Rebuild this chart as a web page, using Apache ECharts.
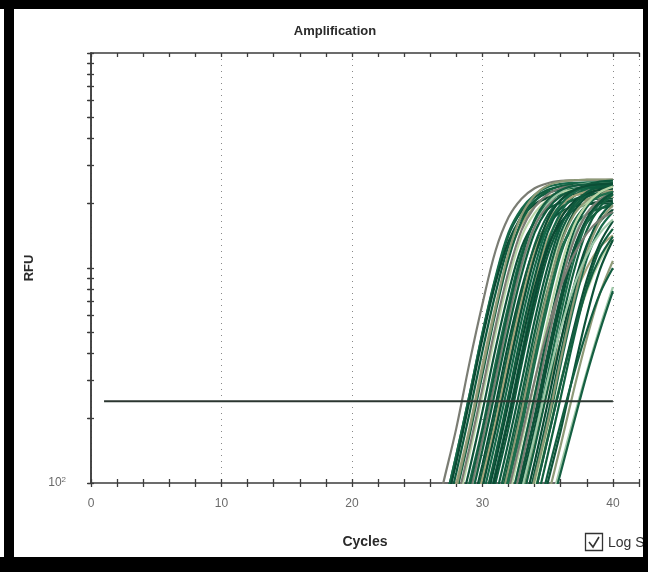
<!DOCTYPE html>
<html>
<head>
<meta charset="utf-8">
<script src="https://cdn.jsdelivr.net/npm/echarts@6/dist/echarts.min.js"></script>
<style>
  html, body { margin: 0; padding: 0; background: #fff; }
  #chart { width: 648px; height: 572px; }
</style>
</head>
<body>
<div id="chart"></div>
<script>
// ---- axis values ----
const cycleTicks = [0, 2, 4, 6, 8, 10, 12, 14, 16, 18, 20, 22, 24, 26, 28, 30, 32, 34, 36, 38, 40, 42];
const cycleLabels = [0, 10, 20, 30, 40];
const rfuTicks = [100, 200, 300, 400, 500, 600, 700, 800, 900, 1000,
                  2000, 3000, 4000, 5000, 6000, 7000, 8000, 9000, 10000];
const rfuLabels = [100];

// ---- threshold ----
const thresholdRFU = 240;
const thresholdCycles = [1, 40];

// ---- amplification curves: first cycle of each trace, then RFU per cycle up to 40 ----
const curveStart = [
  26, 27, 27, 27, 27, 27, 28, 28, 28, 28, 28,
  29, 29, 29, 29, 29, 30, 30, 30, 30, 30,
  31, 31, 31, 31, 31, 31, 32, 32, 32, 32, 32, 32,
  33, 33, 33, 33, 33, 34, 34, 34, 34, 34, 35, 35,
  28, 29, 29, 30, 30, 31, 31, 32, 32, 33, 33, 29, 30, 32, 33, 31
];
const curveRFU = [
  [55, 100, 180, 360, 680, 1200, 1720, 2100, 2350, 2480, 2540, 2560, 2570, 2570, 2575],
  [74, 135, 255, 495, 890, 1420, 1840, 2130, 2310, 2400, 2430, 2445, 2450, 2450],
  [55, 100, 180, 355, 665, 1140, 1600, 1930, 2140, 2240, 2280, 2295, 2300, 2300],
  [74, 135, 255, 500, 905, 1460, 1890, 2190, 2380, 2460, 2490, 2500, 2505, 2505],
  [70, 125, 240, 470, 850, 1330, 1720, 1980, 2120, 2180, 2200, 2205, 2210, 2210],
  [62, 112, 210, 410, 760, 1270, 1750, 2060, 2240, 2310, 2340, 2350, 2350, 2350],
  [55, 100, 180, 360, 675, 1170, 1650, 2000, 2220, 2330, 2380, 2395, 2400],
  [74, 135, 255, 495, 885, 1400, 1800, 2080, 2240, 2310, 2340, 2350, 2350],
  [65, 115, 215, 420, 770, 1250, 1630, 1880, 2010, 2070, 2090, 2100, 2100],
  [90, 165, 320, 620, 1100, 1650, 2040, 2280, 2400, 2440, 2450, 2455, 2455],
  [95, 175, 340, 650, 1180, 1760, 2180, 2420, 2520, 2560, 2575, 2580, 2580],
  [55, 100, 180, 355, 665, 1130, 1570, 1890, 2080, 2180, 2230, 2250],
  [68, 122, 230, 450, 800, 1250, 1600, 1820, 1930, 1980, 2000, 2000],
  [82, 150, 290, 560, 1000, 1560, 1980, 2260, 2410, 2470, 2490, 2500],
  [62, 112, 210, 410, 760, 1280, 1760, 2070, 2250, 2340, 2380, 2400],
  [88, 160, 305, 590, 1040, 1560, 1940, 2160, 2260, 2290, 2300, 2300],
  [55, 100, 180, 355, 665, 1140, 1600, 1930, 2140, 2240, 2290],
  [74, 135, 255, 490, 870, 1360, 1740, 1980, 2090, 2130, 2150],
  [62, 112, 205, 400, 760, 1300, 1810, 2150, 2340, 2420, 2450],
  [70, 125, 235, 450, 810, 1260, 1630, 1860, 1980, 2030, 2050],
  [74, 135, 255, 500, 905, 1470, 1930, 2250, 2440, 2520, 2550],
  [55, 100, 180, 358, 670, 1160, 1630, 1970, 2190, 2300],
  [74, 135, 255, 490, 875, 1380, 1780, 2030, 2140, 2190],
  [62, 112, 205, 400, 760, 1300, 1810, 2150, 2340, 2420],
  [68, 122, 228, 440, 790, 1220, 1560, 1780, 1890, 1940],
  [64, 115, 215, 420, 780, 1290, 1760, 2060, 2220, 2290],
  [74, 135, 255, 500, 905, 1460, 1900, 2200, 2390, 2470],
  [55, 100, 180, 360, 675, 1170, 1650, 2000, 2220],
  [74, 135, 255, 495, 880, 1390, 1800, 2070, 2200],
  [62, 112, 205, 400, 740, 1220, 1620, 1870, 2010],
  [68, 122, 230, 450, 830, 1340, 1790, 2080, 2250],
  [74, 135, 255, 500, 910, 1480, 1920, 2230, 2420],
  [50, 85, 150, 270, 460, 720, 1000, 1250, 1420],
  [55, 100, 180, 355, 660, 1100, 1520, 1820],
  [70, 125, 235, 455, 820, 1280, 1640, 1870],
  [62, 112, 205, 400, 750, 1250, 1720, 2020],
  [90, 165, 315, 610, 1080, 1640, 2020, 2260],
  [50, 95, 170, 300, 500, 780, 1080, 1350],
  [55, 100, 175, 330, 600, 980, 1350],
  [74, 135, 250, 470, 820, 1230, 1520],
  [48, 85, 150, 270, 470, 760, 1080],
  [60, 110, 190, 320, 510, 760, 1000],
  [88, 160, 290, 520, 880, 1300, 1650],
  [70, 120, 200, 330, 530, 815],
  [66, 112, 190, 320, 510, 780],
  [80, 145, 275, 535, 960, 1500, 1920, 2200, 2350, 2410, 2430, 2440, 2440],
  [78, 142, 270, 520, 930, 1460, 1880, 2160, 2300, 2370, 2390, 2400],
  [58, 105, 190, 375, 700, 1180, 1640, 1960, 2160, 2260, 2300, 2310],
  [85, 155, 295, 570, 1010, 1560, 1980, 2250, 2390, 2440, 2460],
  [60, 108, 198, 385, 720, 1220, 1700, 2030, 2220, 2310, 2340],
  [85, 155, 295, 570, 1010, 1560, 1980, 2250, 2390, 2440],
  [58, 105, 190, 375, 700, 1180, 1640, 1960, 2160, 2260],
  [85, 155, 295, 570, 1010, 1560, 1980, 2250, 2390],
  [60, 108, 198, 385, 720, 1220, 1700, 2030, 2220],
  [80, 145, 275, 535, 960, 1500, 1920, 2200],
  [58, 105, 190, 375, 700, 1180, 1640, 1960],
  [95, 175, 335, 640, 1120, 1680, 2070, 2300, 2410, 2450, 2470, 2480],
  [95, 175, 335, 640, 1120, 1680, 2070, 2300, 2410, 2450, 2470],
  [52, 92, 165, 300, 520, 820, 1150, 1450, 1680],
  [48, 88, 160, 290, 500, 800, 1120, 1400],
  [52, 92, 165, 300, 520, 820, 1150, 1450, 1680, 1820]
];

// ---- styling ----
const FONT = '"Liberation Sans", Arial, sans-serif';
const frameColor = '#3c3c3c';
const tickStyle = { color: frameColor, width: 1.3 };
const traceColors = [
  '#7b7d74', '#0f5b3d', '#a5a47c', '#17694a', '#0b4a33', '#0e5a3e',
  '#1e6e4c', '#b9d5a8', '#0d5238', '#12603f', '#8f9a78', '#135e41',
  '#0c4f36', '#9fc9a9', '#155f42'
];

const chart = echarts.init(document.getElementById('chart'), null, { renderer: 'canvas' });

const curveSeries = curveRFU.map((vals, i) => ({
  type: 'line',
  data: vals.map((v, k) => [curveStart[i] + k, v]),
  showSymbol: false,
  smooth: 0.35,
  silent: true,
  z: 2,
  lineStyle: { width: 2.2, color: traceColors[i % traceColors.length] }
}));

const thresholdSeries = {
  type: 'line',
  data: thresholdCycles.map(c => [c, thresholdRFU]),
  showSymbol: false,
  silent: true,
  z: 5,
  lineStyle: { width: 2.2, color: '#2b3630' }
};

const xBase = {
  type: 'value', min: 0, max: 42, interval: 10,
  axisLine: { show: false, onZero: false },
  axisTick: { show: false },
  axisLabel: { show: false },
  splitLine: { show: false }
};
const yBase = {
  type: 'log', logBase: 10, min: 100, max: 10000,
  axisLine: { show: false },
  axisTick: { show: false },
  axisLabel: { show: false },
  splitLine: { show: false }
};

chart.setOption({
  animation: false,
  backgroundColor: '#fff',
  grid: { left: 91, top: 53, right: 9, bottom: 89, containLabel: false, outerBoundsMode: 'none' },
  xAxis: [
    Object.assign({}, xBase, {
      position: 'bottom',
      axisLine: { show: true, onZero: false, lineStyle: { color: frameColor, width: 1.5 } },
      axisTick: { show: true, inside: false, length: 4, customValues: cycleTicks, lineStyle: tickStyle },
      axisLabel: {
        show: true, customValues: cycleLabels, margin: 15,
        fontFamily: FONT, fontSize: 12,
        color: v => (v === 20 || v === 40) ? '#7a4452' : '#6a6a6a'
      },
      name: 'Cycles', nameLocation: 'middle', nameGap: 52,
      nameTextStyle: { fontFamily: FONT, fontWeight: 'bold', fontSize: 14, color: '#2a2a2a' }
    }),
    Object.assign({}, xBase, {
      position: 'bottom',
      axisTick: { show: true, inside: true, length: 4, customValues: cycleTicks, lineStyle: tickStyle }
    }),
    Object.assign({}, xBase, {
      position: 'top',
      axisLine: { show: true, onZero: false, lineStyle: { color: frameColor, width: 1.5 } },
      axisTick: { show: true, inside: true, length: 4, customValues: cycleTicks, lineStyle: tickStyle }
    }),
    // dotted vertical grid every 10 cycles
    Object.assign({}, xBase, {
      position: 'bottom',
      splitLine: { show: true, lineStyle: { type: [1, 5], color: '#888', width: 1 } }
    })
  ],
  yAxis: [
    Object.assign({}, yBase, {
      position: 'left',
      axisLine: { show: true, lineStyle: { color: frameColor, width: 1.5 } },
      axisTick: { show: true, inside: false, length: 3, customValues: rfuTicks, lineStyle: tickStyle },
      axisLabel: {
        show: true, customValues: rfuLabels, margin: 25,
        formatter: () => '{b|10}{s|2}',
        rich: {
          b: { fontFamily: FONT, fontSize: 12, color: '#6a6a6a' },
          s: { fontFamily: FONT, fontSize: 8, color: '#6a6a6a', verticalAlign: 'top', padding: [0, 0, 7, 0] }
        }
      },
      name: 'RFU', nameLocation: 'middle', nameGap: 55,
      nameTextStyle: { fontFamily: FONT, fontWeight: 'bold', fontSize: 13, color: '#2a2a2a' }
    }),
    Object.assign({}, yBase, {
      position: 'left',
      axisTick: { show: true, inside: true, length: 3, customValues: rfuTicks, lineStyle: tickStyle }
    }),
    Object.assign({}, yBase, {
      position: 'right',
      axisLine: { show: true, lineStyle: { color: frameColor, width: 1.5 } },
      axisTick: { show: true, inside: true, length: 4, customValues: rfuTicks, lineStyle: tickStyle }
    })
  ],
  series: curveSeries.concat([thresholdSeries]),
  graphic: [
    {
      type: 'text', x: 335, y: 31, z: 50,
      style: { text: 'Amplification', fontFamily: FONT, fontWeight: 'bold', fontSize: 13,
               fill: '#2a2a2a', textAlign: 'center', textVerticalAlign: 'middle' }
    },
    // "Log Scale" checkbox
    {
      type: 'rect', z: 50,
      shape: { x: 585.5, y: 533.5, width: 17, height: 17 },
      style: { fill: '#fff', stroke: '#333', lineWidth: 1.3 }
    },
    {
      type: 'polyline', z: 51,
      shape: { points: [[589, 542], [593, 547], [599, 537]] },
      style: { stroke: '#333', lineWidth: 1.6, fill: null }
    },
    {
      type: 'text', x: 608, y: 543, z: 50,
      style: { text: 'Log Scale', fontFamily: FONT, fontSize: 14, fill: '#333', textVerticalAlign: 'middle' }
    },
    // outer black frame
    { type: 'rect', z: 100, shape: { x: 0, y: 0, width: 648, height: 9 }, style: { fill: '#000' } },
    { type: 'rect', z: 100, shape: { x: 4, y: 0, width: 10, height: 572 }, style: { fill: '#000' } },
    { type: 'rect', z: 100, shape: { x: 0, y: 557, width: 648, height: 15 }, style: { fill: '#000' } },
    { type: 'rect', z: 100, shape: { x: 643, y: 0, width: 5, height: 572 }, style: { fill: '#000' } }
  ]
});
</script>
</body>
</html>
